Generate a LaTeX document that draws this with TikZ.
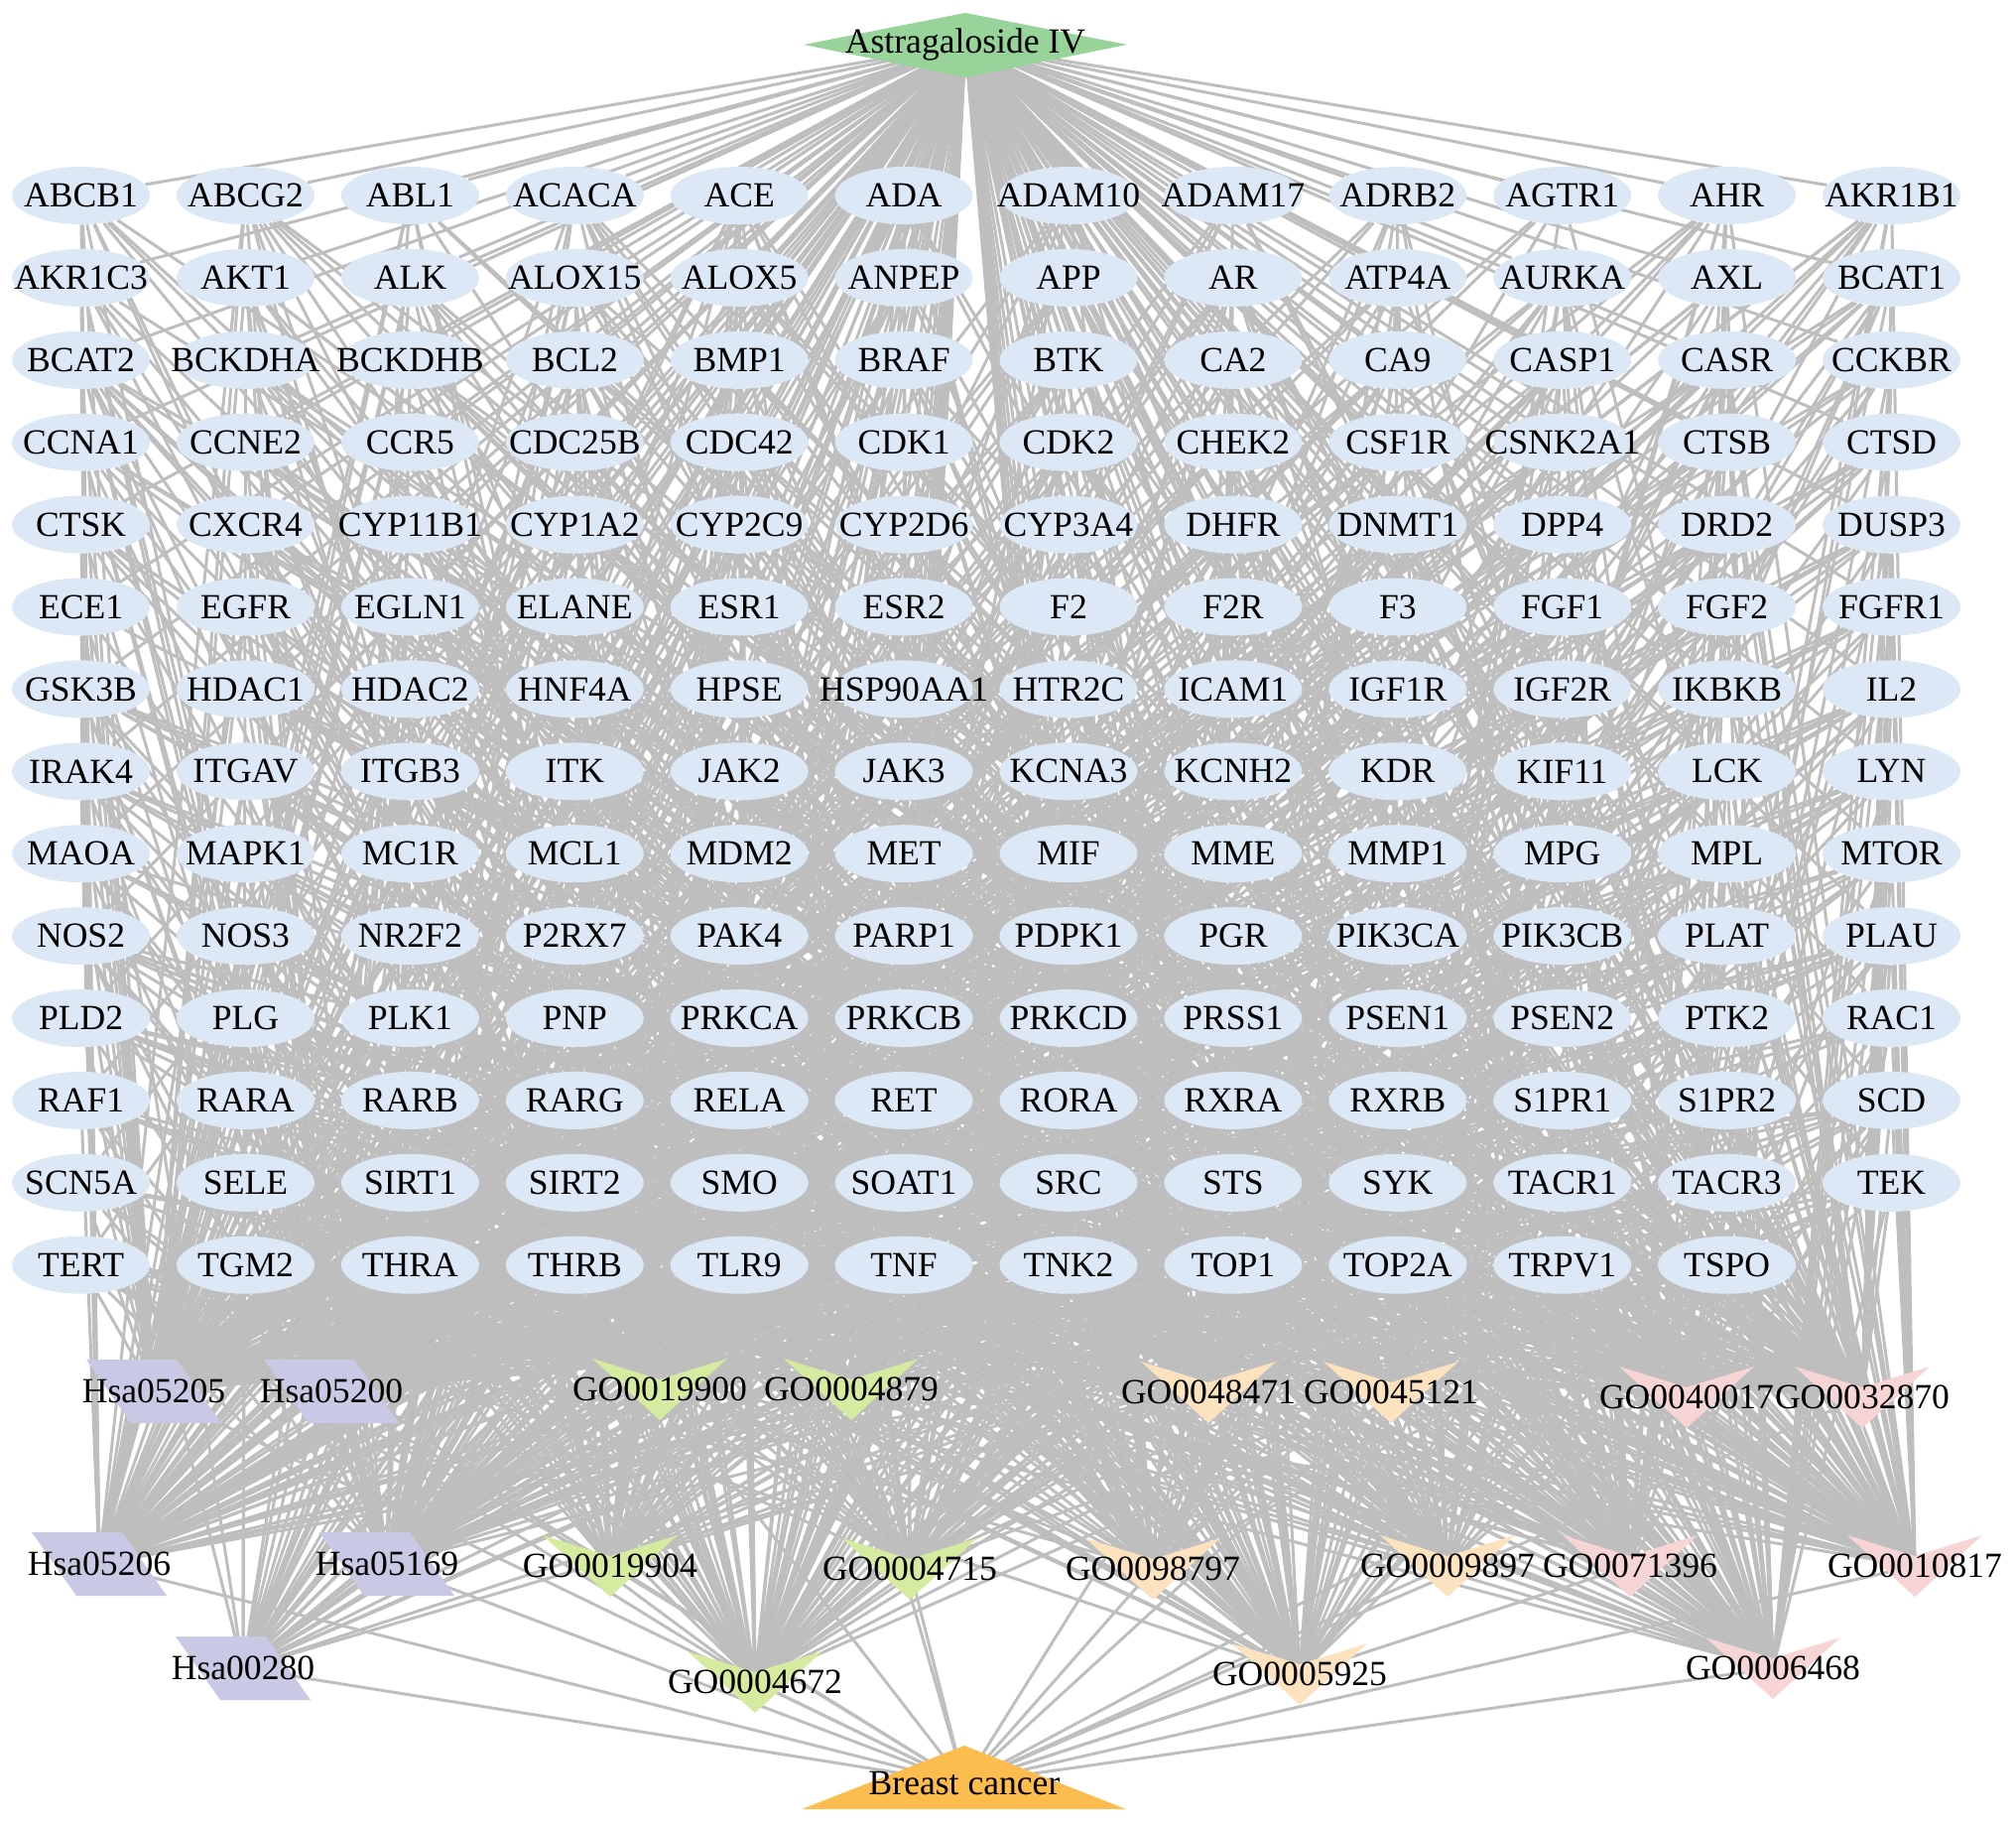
\documentclass[tikz,border=0pt]{standalone}
\usepackage{fontspec}
\setmainfont{Liberation Serif}
\usetikzlibrary{shapes.geometric}
\pgfdeclarelayer{bg}
\pgfsetlayers{bg,main}
\definecolor{edgec}{HTML}{BEBEBE}
\definecolor{tgtc}{HTML}{DCE8F5}
\definecolor{drugc}{HTML}{98D39A}
\definecolor{disc}{HTML}{FDBD4E}
\definecolor{hsac}{HTML}{C9C9E6}
\definecolor{gogreen}{HTML}{D5EBA0}
\definecolor{gopeach}{HTML}{FDE2BF}
\definecolor{gopink}{HTML}{F8D5D5}
\newcount\myrs
\global\myrs=12345
\def\nextrand{\global\myrs=\numexpr\myrs*171-((\myrs*171-15134)/30269)*30269\relax}
\begin{document}
\begin{tikzpicture}[x=0.5pt,y=-0.5pt,
  edge/.style={draw=edgec,line width=1.5pt},
  tgt/.style={ellipse,fill=tgtc,minimum width=69.5pt,minimum height=29pt,inner sep=0pt},
  lbl/.style={inner sep=0pt},
  font=\fontsize{17.8pt}{20pt}\selectfont]
\useasboundingbox (0,0) rectangle (2032,1837);
% drug and disease shapes
\fill[drugc] (810,45) -- (973,13) -- (1136,45) -- (973,78) -- cycle;
\node[lbl] (astra) at (973,45) {Astragaloside IV};
\fill[disc] (972,1759) -- (1135,1823) -- (808,1823) -- cycle;
\node[lbl] (bc) at (972,1797) {Breast cancer};
% targets
\foreach \nm [count=\i from 0] in {ABCB1,ABCG2,ABL1,ACACA,ACE,ADA,ADAM10,ADAM17,ADRB2,AGTR1,AHR,AKR1B1,
AKR1C3,AKT1,ALK,ALOX15,ALOX5,ANPEP,APP,AR,ATP4A,AURKA,AXL,BCAT1,
BCAT2,BCKDHA,BCKDHB,BCL2,BMP1,BRAF,BTK,CA2,CA9,CASP1,CASR,CCKBR,
CCNA1,CCNE2,CCR5,CDC25B,CDC42,CDK1,CDK2,CHEK2,CSF1R,CSNK2A1,CTSB,CTSD,
CTSK,CXCR4,CYP11B1,CYP1A2,CYP2C9,CYP2D6,CYP3A4,DHFR,DNMT1,DPP4,DRD2,DUSP3,
ECE1,EGFR,EGLN1,ELANE,ESR1,ESR2,F2,F2R,F3,FGF1,FGF2,FGFR1,
GSK3B,HDAC1,HDAC2,HNF4A,HPSE,HSP90AA1,HTR2C,ICAM1,IGF1R,IGF2R,IKBKB,IL2,
IRAK4,ITGAV,ITGB3,ITK,JAK2,JAK3,KCNA3,KCNH2,KDR,KIF11,LCK,LYN,
MAOA,MAPK1,MC1R,MCL1,MDM2,MET,MIF,MME,MMP1,MPG,MPL,MTOR,
NOS2,NOS3,NR2F2,P2RX7,PAK4,PARP1,PDPK1,PGR,PIK3CA,PIK3CB,PLAT,PLAU,
PLD2,PLG,PLK1,PNP,PRKCA,PRKCB,PRKCD,PRSS1,PSEN1,PSEN2,PTK2,RAC1,
RAF1,RARA,RARB,RARG,RELA,RET,RORA,RXRA,RXRB,S1PR1,S1PR2,SCD,
SCN5A,SELE,SIRT1,SIRT2,SMO,SOAT1,SRC,STS,SYK,TACR1,TACR3,TEK,
TERT,TGM2,THRA,THRB,TLR9,TNF,TNK2,TOP1,TOP2A,TRPV1,TSPO}{
  \pgfmathtruncatemacro\cc{mod(\i,12)}
  \pgfmathtruncatemacro\rr{div(\i,12)}
  \node[tgt] (n\i) at (81.6+165.9*\cc,197+82.9*\rr) {\makebox[0pt]{\nm}};
}
% pathway terms (parallelograms)
\foreach \i/\x/\y/\lab in {0/155/1402/Hsa05205,1/334/1402/Hsa05200,2/100/1576/Hsa05206,3/390/1576/Hsa05169,4/245/1681/Hsa00280}{
  \fill[hsac] (\x-68,\y-32) -- (\x+23,\y-32) -- (\x+68,\y+32) -- (\x-23,\y+32) -- cycle;
  \node[lbl] (t\i) at (\x,\y) {\lab};
}
% GO terms (V shapes)
\foreach \i/\x/\y/\lab/\col in {5/665/1400/GO0019900/gogreen,6/858/1400/GO0004879/gogreen,7/615/1578/GO0019904/gogreen,8/917/1581/GO0004715/gogreen,9/761/1695/GO0004672/gogreen,
10/1218/1403/GO0048471/gopeach,11/1402/1403/GO0045121/gopeach,12/1162/1581/GO0098797/gopeach,13/1459/1578/GO0009897/gopeach,14/1310/1687/GO0005925/gopeach,
15/1700/1408/GO0040017/gopink,16/1877/1408/GO0032870/gopink,17/1643/1578/GO0071396/gopink,18/1930/1578/GO0010817/gopink,19/1787/1681/GO0006468/gopink}{
  \fill[\col] (\x-68,\y-31) -- (\x,\y-10) -- (\x+68,\y-31) -- (\x,\y+31) -- cycle;
  \node[lbl] (t\i) at (\x,\y) {\lab};
}
% edges
\begin{pgfonlayer}{bg}
\foreach \k in {0,...,166}{
  \draw[edge] (astra.center) -- (n\k);
}
\foreach \t in {0,...,19}{
  \draw[edge] (bc.center) -- (t\t.center);
}
\foreach \t/\p in {0/80,1/90,2/55,3/60,4/25,5/45,6/30,7/35,8/40,9/50,10/50,11/35,12/30,13/35,14/40,15/35,16/50,17/40,18/50,19/50}{
  \foreach \k in {0,...,166}{
    \nextrand
    \ifnum\myrs<\numexpr\p*303\relax
      \draw[edge] (n\k) -- (t\t.center);
    \fi
  }
}
\end{pgfonlayer}
\end{tikzpicture}
\end{document}
